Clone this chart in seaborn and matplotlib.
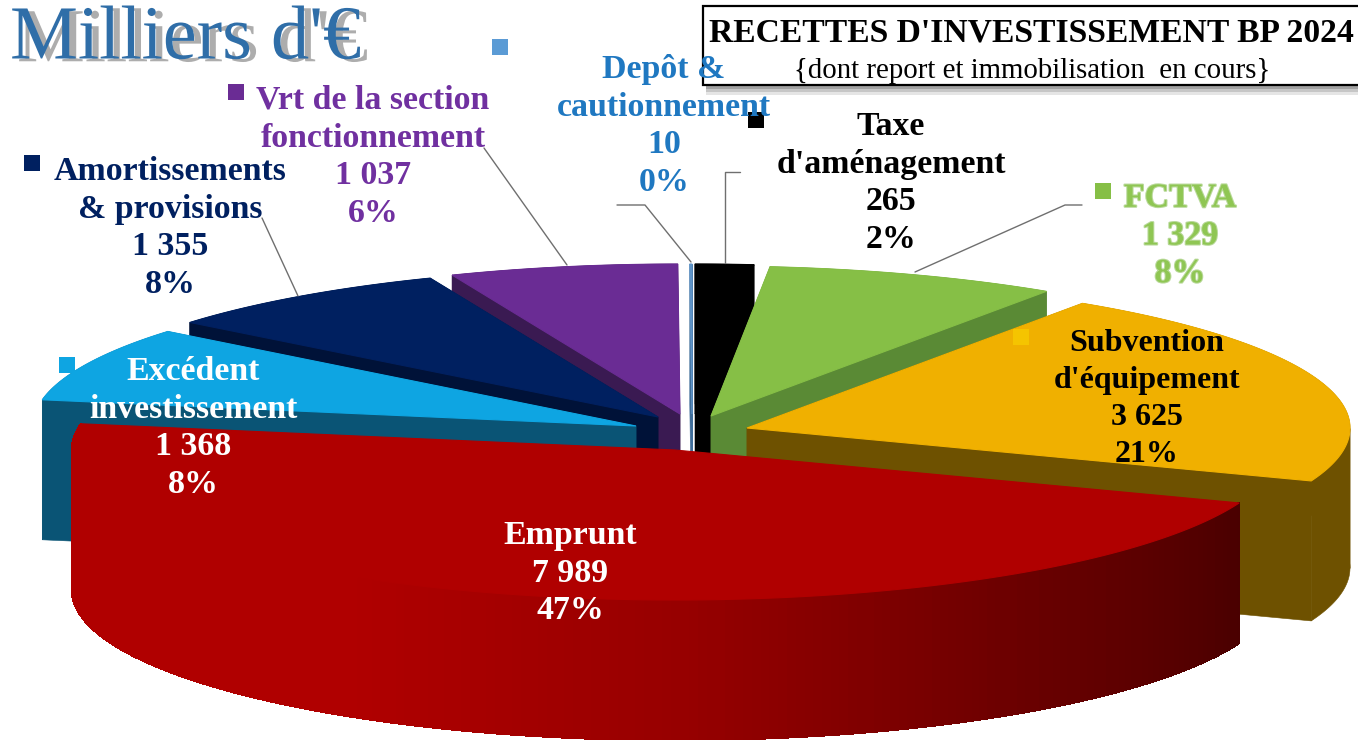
import numpy as np
import seaborn as sns
import matplotlib.pyplot as plt
import matplotlib.patheffects as pe
from matplotlib.patches import Polygon, Rectangle

sns.set_theme(style="white")
plt.rcParams['font.family'] = ['Liberation Serif', 'DejaVu Serif']

# Data, clockwise from 12 o'clock
categories = ["Taxe\nd'aménagement", "FCTVA", "Subvention\nd'équipement", "Emprunt",
              "Excédent\ninvestissement", "Amortissements\n& provisions",
              "Vrt de la section\nfonctionnement", "Depôt &\ncautionnement"]
values = [265, 1329, 3625, 7989, 1368, 1355, 1037, 10]

# Colours and placement of each slice
top_colors = ['#000000', '#86bf46', '#f0b000', '#b00000', '#0ea5e2', '#002060', '#6a2c94', '#5f94c8']
wall_colors = ['#000000', '#5a8a35', '#6e5100', '#7a0000', '#0a5475', '#001238', '#3a1a52', '#3f6d99']
text_colors = ['#000000', '#8fc653', '#000000', '#ffffff', '#ffffff', '#002060', '#7030a0', '#1f78c1']
apex_x = [695, 711, 747, 675, 636, 658, 680, 692]
apex_y = [414, 416, 428, 450, 426, 417, 414, 414]
label_x = [891, 1180, 1147, 570, 193, 170, 373, 664]
label_y = [183, 236, 399, 573, 428, 228, 157, 126]
label_size = [24.4, 24.4, 23, 24.4, 24.4, 24.4, 24.4, 24.4]
key_x = [756, 1103, 1021, None, 67, 32, 236, 500]
key_y = [120, 191, 337, None, 365, 163, 92, 47]
key_colors = ['#000000', '#86bf46', '#f5c400', None, '#0ea5e2', '#002060', '#6a2c94', '#5b9bd5']

RX, RY, DEPTH = 603, 150, 140

fig = plt.figure(figsize=(13.58, 7.4), dpi=100)
ax = fig.add_axes([0, 0, 1, 1])
ax.set_xlim(0, 1358)
ax.set_ylim(740, 0)
ax.axis('off')

total = sum(values)
edges = np.r_[0, np.cumsum(values)] / total * 360


def arc(i, n=200):
    t = np.radians(np.linspace(edges[i], edges[i + 1], n))
    return apex_x[i] + RX * np.sin(t), apex_y[i] - RY * np.cos(t)


def fill(xs, ys, color, smooth=True, lw=0.4):
    ax.add_patch(Polygon(np.c_[xs, ys], closed=True, fc=color, ec=color, lw=lw, antialiased=smooth))


def draw_slice(i):
    x, y = arc(i)
    ax_, ay_ = apex_x[i], apex_y[i]
    if i == 3:
        # big slice: rim strips shaded along the arc
        shades = sns.blend_palette(['#4a0000', '#6a0000', '#960000', '#b00000', '#b00000', '#b00000'], len(x) - 1)
        for k in range(len(x) - 1):
            fill([x[k], x[k + 1], x[k + 1], x[k]], [y[k], y[k + 1], y[k + 1] + DEPTH, y[k] + DEPTH],
                 shades[k], smooth=False, lw=1)
    else:
        # split at the right-most point so the rim outline does not cross itself
        cut = int(np.argmax(x))
        for part in [slice(0, cut + 1), slice(cut, None)]:
            xp, yp = x[part], y[part]
            if len(xp) > 1:
                fill(np.r_[xp, xp[::-1]], np.r_[yp, yp[::-1] + DEPTH], wall_colors[i])
        # the two radial walls
        for xe, ye in [(x[0], y[0]), (x[-1], y[-1])]:
            fill([ax_, xe, xe, ax_], [ay_, ye, ye + DEPTH, ay_ + DEPTH], wall_colors[i])
    fill(np.r_[ax_, x], np.r_[ay_, y], top_colors[i], lw=0.8)


for i in [6, 5, 4, 7, 0, 1, 2, 3]:
    draw_slice(i)

# leader lines
leaders = [([484, 567], [148, 265]), ([262, 298], [218, 296]),
           ([617, 645, 691], [205, 205, 262]), ([740, 725, 725], [172, 172, 263]),
           ([1082, 1065, 915], [205, 205, 272])]
for lx, ly in leaders:
    ax.plot(lx, ly, color='#6f6f6f', lw=1)

# title box with a soft shadow
for grow, alpha in [(10, 0.2), (7, 0.3), (4, 0.5)]:
    ax.add_patch(Rectangle((706, 10), 652, 75 + grow, fc='#808080', ec='none', alpha=alpha))
ax.add_patch(Rectangle((703, 6), 660, 79, fc='white', ec='black', lw=1.6))
ax.text(1031, 33, "RECETTES D'INVESTISSEMENT BP 2024", ha='center', va='center',
        fontsize=24.2, fontweight='bold', color='black')
ax.text(1032, 71, "{dont report et immobilisation  en cours}", ha='center', va='center',
        fontsize=20.8, color='black')

# big heading
ax.text(10, 40, "Milliers d'€", ha='left', va='center', fontsize=55, color='#2f6ea8',
        path_effects=[pe.SimplePatchShadow(offset=(5, -2), shadow_rgbFace='#adadad', alpha=1), pe.Normal()])

# labels
for i, name in enumerate(categories):
    val = f"{values[i]:,}".replace(',', ' ')
    pct = round(values[i] / total * 100)
    effects = [pe.withStroke(linewidth=1.5, foreground='#b9d99a')] if name == 'FCTVA' else None
    ax.text(label_x[i], label_y[i], f"{name}\n{val}\n{pct}%", ha='center', va='center',
            fontsize=label_size[i], fontweight='bold', color=text_colors[i],
            linespacing=1.28 * 24.4 / label_size[i], path_effects=effects)
    if key_x[i] is not None:
        ax.add_patch(Rectangle((key_x[i] - 8, key_y[i] - 8), 16, 16, fc=key_colors[i], ec='none'))

fig.savefig('out.png', dpi=100)
